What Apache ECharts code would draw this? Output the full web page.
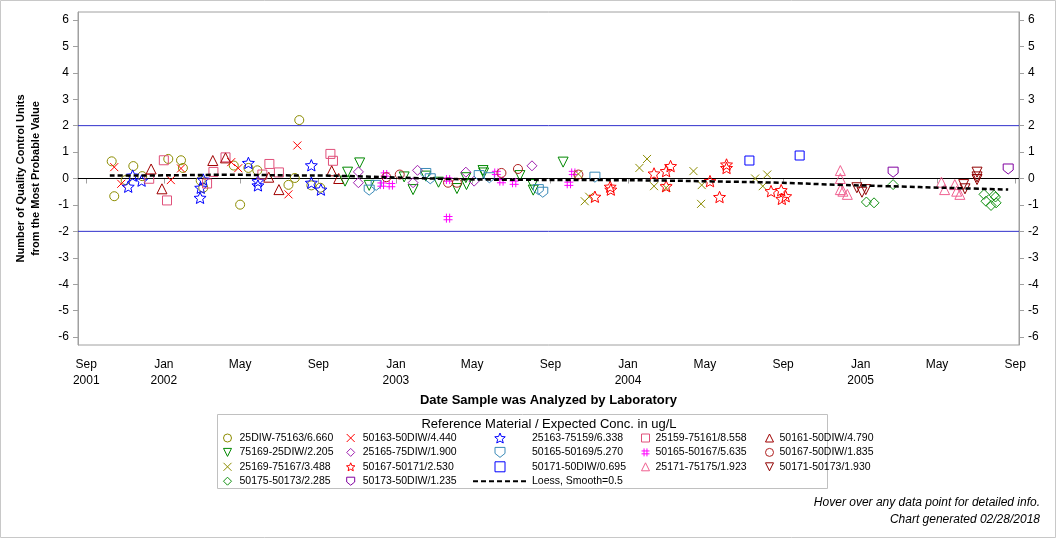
<!DOCTYPE html>
<html><head><meta charset="utf-8">
<script src="https://cdn.jsdelivr.net/npm/echarts@6/dist/echarts.min.js"></script>
<style>html,body{margin:0;padding:0;background:#fff}#c{width:1056px;height:538px}</style>
</head><body><div id="c"></div>
<script>
// ---------------- data ----------------
const xTickDates = ['2001-09-01','2002-01-01','2002-05-01','2002-09-01','2003-01-01','2003-05-01','2003-09-01','2004-01-01','2004-05-01','2004-09-01','2005-01-01','2005-05-01','2005-09-01'];
const xTickLabels = ['Sep\n2001','Jan\n2002','May','Sep','Jan\n2003','May','Sep','Jan\n2004','May','Sep','Jan\n2005','May','Sep'];
const xRange = ['2001-08-19','2005-09-07'];
const yTicks = [-6,-5,-4,-3,-2,-1,0,1,2,3,4,5,6];
const refLinesBlue = [2,-2];
const refLineZero = [0];

const s25DIW_75163 = [['2001-10-11',0.65],['2001-10-15',-0.67],['2001-11-02',-0.06],['2001-11-14',0.47],['2001-11-28',0.09],['2002-01-08',0.74],['2002-01-28',0.69],['2002-01-31',0.40],['2002-02-28',-0.08],['2002-03-04',-0.35],['2002-04-21',0.49],['2002-05-01',-0.99],['2002-05-14',0.40],['2002-05-28',0.31],['2002-07-16',-0.24],['2002-07-26',0.02],['2002-08-02',2.21],['2002-08-21',-0.26],['2002-09-04',-0.35]];
const s50163_50DIW = [['2001-10-15',0.43],['2001-10-26',-0.20],['2002-01-12',-0.06],['2002-01-28',0.38],['2002-04-17',0.62],['2002-04-28',0.39],['2002-07-16',-0.60],['2002-07-30',1.25]];
const s25163_75159 = [['2001-11-06',-0.31],['2001-11-13',0.11],['2001-11-27',-0.08],['2002-02-28',-0.35],['2002-02-27',-0.73],['2002-03-04',-0.04],['2002-05-14',0.59],['2002-05-29',-0.10],['2002-05-29',-0.26],['2002-08-21',0.50],['2002-08-21',-0.16],['2002-09-05',-0.42]];
const s25159_75161 = [['2001-12-09',-0.01],['2002-01-01',0.69],['2002-01-06',-0.83],['2002-03-10',-0.19],['2002-03-20',0.25],['2002-04-08',0.80],['2002-06-05',0.15],['2002-06-16',0.55],['2002-07-01',0.23],['2002-09-20',0.93],['2002-09-24',0.67]];
const s50161_50DIW = [['2001-12-12',0.36],['2001-12-29',-0.39],['2002-03-19',0.68],['2002-04-08',0.78],['2002-06-15',0.05],['2002-07-01',-0.42],['2002-09-22',0.29],['2002-10-03',0.00]];
const s75169_25DIW = [['2002-10-13',-0.10],['2002-10-17',0.24],['2002-11-05',0.59],['2002-11-20',-0.26],['2003-01-14',0.06],['2003-01-28',-0.42],['2003-02-17',0.09],['2003-03-09',-0.14],['2003-04-07',-0.38],['2003-04-21',0.03],['2003-04-22',-0.23],['2003-05-18',0.30],['2003-05-19',0.21],['2003-07-15',0.11],['2003-08-04',-0.23],['2003-08-05',-0.44],['2003-09-21',0.62]];
const s25165_75DIW = [['2002-11-03',0.25],['2002-11-03',-0.16],['2003-01-28',-0.16],['2003-02-04',0.31],['2003-04-21',0.24],['2003-05-04',-0.10],['2003-08-03',0.48]];
const s50165_50169 = [['2002-11-20',-0.44],['2002-12-01',-0.26],['2003-02-17',0.19],['2003-02-24',-0.01],['2003-05-12',0.11],['2003-05-28',0.03],['2003-08-13',-0.42],['2003-08-20',-0.52],['2003-11-10',0.05]];
const s50165_50167 = [['2002-12-10',-0.23],['2002-12-15',0.15],['2002-12-24',-0.25],['2003-03-24',-0.04],['2003-03-24',-1.50],['2003-06-08',0.21],['2003-06-16',-0.10],['2003-07-06',-0.16],['2003-09-30',-0.20],['2003-10-07',0.21]];
const s50167_50DIW = [['2002-12-17',0.05],['2003-01-07',0.15],['2003-03-24',-0.16],['2003-04-07',-0.16],['2003-06-16',0.21],['2003-07-12',0.36],['2003-10-15',0.15]];
const s25169_75167 = [['2003-10-15',0.17],['2003-10-25',-0.86],['2003-11-01',-0.69],['2004-01-19',0.40],['2004-01-31',0.74],['2004-02-11',-0.29],['2004-03-01',-0.35],['2004-04-13',0.28],['2004-04-25',-0.96],['2004-04-26',-0.25],['2004-07-19',0.00],['2004-07-31',-0.29],['2004-08-07',0.15]];
const s50167_50171 = [['2003-11-10',-0.69],['2003-12-04',-0.31],['2003-12-05',-0.42],['2004-02-11',0.19],['2004-03-01',0.28],['2004-03-08',0.47],['2004-03-01',-0.29],['2004-05-09',-0.10],['2004-05-24',-0.70],['2004-06-04',0.53],['2004-06-04',0.40],['2004-08-13',-0.48],['2004-08-29',-0.44],['2004-08-30',-0.77],['2004-09-05',-0.67]];
const s50171_50DIW = [['2004-07-10',0.68],['2004-09-27',0.87]];
const s25171_75175 = [['2004-11-30',0.30],['2004-11-30',0.00],['2004-11-30',-0.42],['2004-12-04',-0.48],['2004-12-11',-0.60],['2005-05-08',-0.14],['2005-05-13',-0.42],['2005-05-29',-0.23],['2005-06-01',-0.48],['2005-06-06',-0.60]];
const s50171_50173 = [['2004-12-26',-0.35],['2005-01-03',-0.52],['2005-01-09',-0.42],['2005-06-12',-0.23],['2005-06-14',-0.39],['2005-07-03',0.24],['2005-07-03',0.06],['2005-07-03',-0.04]];
const s50175_50173 = [['2005-01-10',-0.89],['2005-01-22',-0.92],['2005-02-21',-0.23],['2005-07-14',-0.60],['2005-07-17',-0.86],['2005-07-25',-1.02],['2005-07-30',-0.63],['2005-08-01',-0.70],['2005-08-02',-0.92]];
const s50173_50DIW = [['2005-02-21',0.24],['2005-08-21',0.36]];
const loess = [['2001-10-08',0.11],['2002-01-10',0.12],['2002-04-10',0.14],['2002-07-10',0.12],['2002-10-05',0.10],['2003-02-08',0.01],['2003-05-24',-0.04],['2003-11-17',-0.06],['2004-03-02',-0.08],['2004-05-13',-0.11],['2004-08-26',-0.16],['2004-11-29',-0.24],['2005-02-11',-0.29],['2005-05-25',-0.36],['2005-08-21',-0.42]];

// ---------------- styling ----------------
const t = s => Date.parse(s + 'T00:00:00Z');
const FONT = 'Liberation Sans, Arial, sans-serif';
const P = {
  circle: 'circle',
  square: 'path://M0,0L10,0L10,10L0,10Z',
  tri: 'path://M5,0L10,10L0,10Z',
  diamond: 'path://M5,0L10,5L5,10L0,5Z',
  x: 'path://M0,0L10,10M10,0L0,10',
  dtri: 'path://M0,0L10,0L5,10Z',
  shield: 'path://M0,0L10,0L10,6L5,10L0,6Z',
  hash: 'path://M3.2,0L3.2,10M6.8,0L6.8,10M0,3.2L10,3.2M0,6.8L10,6.8',
  star: 'path://M10,0L12.6,6.3L19.5,6.9L14.2,11.4L15.9,18.1L10,14.6L4.1,18.1L5.8,11.4L0.5,6.9L7.4,6.3Z'
};
const defs = [
  ['25DIW-75163/6.660', s25DIW_75163, P.circle, '#8c8c00', 9],
  ['50163-50DIW/4.440', s50163_50DIW, P.x, '#ff0000', 8],
  ['25163-75159/6.338', s25163_75159, P.star, '#0000ff', 12],
  ['25159-75161/8.558', s25159_75161, P.square, '#e0507a', 9],
  ['50161-50DIW/4.790', s50161_50DIW, P.tri, '#a00000', 10],
  ['75169-25DIW/2.205', s75169_25DIW, P.dtri, '#008800', 10],
  ['25165-75DIW/1.900', s25165_75DIW, P.diamond, '#a020b0', 10],
  ['50165-50169/5.270', s50165_50169, P.shield, '#3a8ab8', 10],
  ['50165-50167/5.635', s50165_50167, P.hash, '#ff00ff', 9],
  ['50167-50DIW/1.835', s50167_50DIW, P.circle, '#b02020', 9],
  ['25169-75167/3.488', s25169_75167, P.x, '#8c8c00', 8],
  ['50167-50171/2.530', s50167_50171, P.star, '#ff0000', 12],
  ['50171-50DIW/0.695', s50171_50DIW, P.square, '#0000ff', 9],
  ['25171-75175/1.923', s25171_75175, P.tri, '#f06090', 10],
  ['50171-50173/1.930', s50171_50173, P.dtri, '#900000', 10],
  ['50175-50173/2.285', s50175_50173, P.diamond, '#109010', 10],
  ['50173-50DIW/1.235', s50173_50DIW, P.shield, '#8000a0', 10]
];
const LOESS = 'Loess, Smooth=0.5';

const series = [];
function refLine(v, color) {
  series.push({
    type: 'line', symbol: 'none', silent: true, z: 1, animation: false,
    data: [[t(xRange[0]), v], [t(xRange[1]), v]],
    lineStyle: {color: color, width: 1, type: 'solid'},
    emphasis: {disabled: true}
  });
}
refLinesBlue.forEach(v => refLine(v, '#3030cc'));
refLineZero.forEach(v => refLine(v, '#000000'));
defs.forEach(d => {
  series.push({
    name: d[0], type: 'scatter', symbol: d[2], symbolSize: d[4], symbolKeepAspect: true,
    data: d[1].map(p => [t(p[0]), p[1]]),
    itemStyle: {color: 'rgba(0,0,0,0)', borderColor: d[3], borderWidth: 1, opacity: 1},
    emphasis: {disabled: true}, animation: false, z: 3
  });
});
series.push({
  name: LOESS, type: 'line', symbol: 'none', smooth: 0.4, z: 4, animation: false,
  data: loess.map(p => [t(p[0]), p[1]]),
  lineStyle: {color: '#000', width: 2.5, type: [5, 3]},
  itemStyle: {color: 'rgba(0,0,0,0)', borderWidth: 0}
});

const xTickVals = xTickDates.map(t);
const names = defs.map(d => d[0]);
const cols = [
  [names[0], names[5], names[10], names[15]],
  [names[1], names[6], names[11], names[16]],
  [names[2], names[7], names[12], {name: LOESS, itemStyle: {color: 'rgba(0,0,0,0)', borderWidth: 0}}],
  [names[3], names[8], names[13]],
  [names[4], names[9], names[14]]
];
const colLeft = [223, 346, 472, 641, 765];
const colW = [14, 14, 54, 10, 10];
const colH = [8, 8, 10, 8, 8];
const legends = cols.map((c, i) => ({
  data: c, orient: 'vertical', left: colLeft[i], top: 432, padding: 0,
  itemWidth: colW[i], itemHeight: colH[i], itemGap: 2.4, selectedMode: false,
  itemStyle: {borderWidth: 1},
  textStyle: {fontFamily: FONT, fontSize: 10.5, color: '#000', lineHeight: 12}
}));

const axisGray = '#a0a0a0';
const yAx = pos => ({
  type: 'value', min: -6.3, max: 6.3, position: pos,
  axisLine: {show: true, lineStyle: {color: axisGray}},
  axisTick: {show: true, customValues: yTicks, length: 5, lineStyle: {color: axisGray}},
  axisLabel: {customValues: yTicks, margin: 9, fontFamily: FONT, fontSize: 12, color: '#000'},
  splitLine: {show: false}
});
const left = yAx('left');
left.name = 'Number of Quality Control Units\nfrom the Most Probable Value';
left.nameLocation = 'middle';
left.nameGap = 34;
left.nameMoveOverlap = false;
left.nameTextStyle = {fontFamily: FONT, fontSize: 11, fontWeight: 'bold', color: '#000', lineHeight: 15.5};

const chart = echarts.init(document.getElementById('c'));
chart.setOption({
  animation: false,
  backgroundColor: '#fff',
  grid: {left: 78, right: 37, top: 12, bottom: 193, show: true, borderColor: axisGray, borderWidth: 1},
  xAxis: {
    type: 'value', min: t(xRange[0]), max: t(xRange[1]),
    axisLine: {show: true, lineStyle: {color: axisGray}},
    axisTick: {show: true, customValues: xTickVals, length: 5, lineStyle: {color: axisGray}},
    axisLabel: {customValues: xTickVals, margin: 12, lineHeight: 16, fontFamily: FONT, fontSize: 12, color: '#000',
      formatter: v => { const i = xTickVals.indexOf(v); return i >= 0 ? xTickLabels[i] : ''; }},
    splitLine: {show: false},
    name: 'Date Sample was Analyzed by Laboratory', nameLocation: 'middle', nameGap: 48,
    nameTextStyle: {fontFamily: FONT, fontSize: 13, fontWeight: 'bold', color: '#000'}
  },
  yAxis: [left, yAx('right')],
  legend: legends,
  series: series,
  graphic: [
    {type: 'rect', shape: {x: 0.5, y: 0.5, width: 1055, height: 537}, style: {fill: 'none', stroke: '#c8c8c8', lineWidth: 1}, silent: true},
    {type: 'rect', shape: {x: 217.5, y: 414.5, width: 610, height: 74}, style: {fill: 'none', stroke: '#c0c0c0', lineWidth: 1}, silent: true},
    {type: 'text', x: 549, y: 424, style: {text: 'Reference Material / Expected Conc. in ug/L', font: '13px ' + FONT, fill: '#000', align: 'center', verticalAlign: 'middle'}, silent: true},
    {type: 'text', x: 1040, y: 503, style: {text: 'Hover over any data point for detailed info.', font: 'italic 12px ' + FONT, fill: '#000', align: 'right', verticalAlign: 'middle'}, silent: true},
    {type: 'text', x: 1040, y: 520, style: {text: 'Chart generated 02/28/2018', font: 'italic 12px ' + FONT, fill: '#000', align: 'right', verticalAlign: 'middle'}, silent: true}
  ]
});
</script></body></html>
